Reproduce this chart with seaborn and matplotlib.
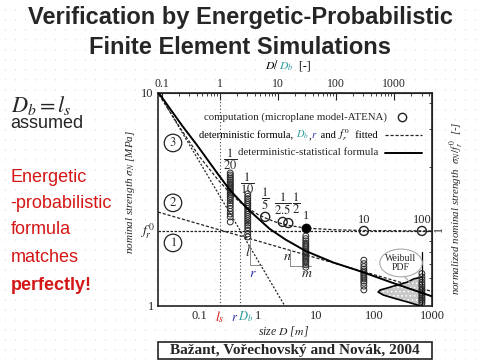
import matplotlib
matplotlib.use('Agg')
import matplotlib.pyplot as plt
import numpy as np
import pandas as pd
import seaborn as sns
from matplotlib.patches import Ellipse, Rectangle
from matplotlib.ticker import FixedLocator, LogLocator, NullFormatter
from matplotlib.offsetbox import TextArea, HPacker, AnchoredOffsetbox
from matplotlib.transforms import blended_transform_factory

# === values ===
FR0 = 2.25      # f_r^0 [MPa]
DB = 0.22       # D_b = l_s [m]
RDB = 0.485     # r * D_b [m]

# simulated clusters (size D [m] -> nominal strengths [MPa])
CLUSTER_D = [0.335, 0.67, 6.7, 67, 670]
CLUSTER_S = [
    [4.21, 4.12, 4.04, 3.96, 3.89, 3.82, 3.75, 3.69, 3.63, 3.57, 3.51, 3.45,
     3.39, 3.33, 3.26, 3.19, 3.12, 3.04, 2.96, 2.87, 2.78, 2.70, 2.62, 2.48],
    [3.36, 3.27, 3.19, 3.12, 3.05, 2.99, 2.93, 2.87, 2.81, 2.75, 2.69, 2.63,
     2.57, 2.51, 2.45, 2.39, 2.33, 2.26, 2.18, 2.11],
    [2.13, 2.07, 2.02, 1.97, 1.93, 1.89, 1.85, 1.81, 1.78, 1.75, 1.72, 1.69,
     1.66, 1.63, 1.60, 1.56, 1.52],
    [1.64, 1.58, 1.53, 1.49, 1.46, 1.43, 1.40, 1.37, 1.34, 1.31, 1.28, 1.24, 1.19],
    [1.42, 1.37, 1.33, 1.29, 1.26, 1.23, 1.20, 1.18, 1.15, 1.13, 1.11, 1.09,
     1.07, 1.05, 1.03],
]

# deterministic computations (open) and the reference size (filled)
DET_PTS_D = [1.34, 2.68, 3.35, 67, 670]
DET_PTS_S = [2.62, 2.48, 2.45, 2.25, 2.25]
REF_D = [6.7]
REF_S = [2.32]

# curves
SOLID_D = [0.0196, 0.05, 0.089, 0.2, 0.33, 0.67, 1.6, 3.0, 6.7, 20, 65, 200, 1000]
SOLID_S = [10.0, 7.0, 5.7, 4.2, 3.5, 2.85, 2.3, 2.05, 1.81, 1.6, 1.44, 1.29, 1.11]
DET_D = [0.0196, 0.05, 0.1, 0.2, 0.335, 0.5, 0.67, 1.0, 1.34, 2.0, 3.35, 6.7, 20, 67, 1000]
DET_S = [9.85, 6.6, 5.0, 3.95, 3.38, 3.06, 2.88, 2.69, 2.59, 2.48, 2.39, 2.32, 2.28, 2.26, 2.25]
STEEP_D = [0.0196, 2.92]
STEEP_S = [10.0, 1.0]
NM_D = [0.019, 1000]
NM_S = [2.76, 1.17]

# Weibull pdf drawn at the largest size
WB_S = [1.368, 1.339, 1.296, 1.255, 1.215, 1.189, 1.163, 1.126, 1.090, 1.044, 1.011, 1.0]
WB_D = [670, 480, 380, 255, 170, 128, 118, 145, 215, 380, 560, 670]

# scale labels above the clusters
SCALE_TXT = [r"$\dfrac{1}{20}$", r"$\dfrac{1}{10}$", r"$\dfrac{1}{5}$", r"$\dfrac{1}{2.5}$",
             r"$\dfrac{1}{2}$", "1", "10", "100"]
SCALE_D = [0.335, 0.67, 1.34, 2.68, 4.5, 6.7, 67, 670]
SCALE_S = [4.9, 3.78, 3.21, 3.04, 3.04, 2.64, 2.53, 2.53]

X_TICKS = [0.1, 1, 10, 100, 1000]
X_TICKLABELS = ["0.1", "1", "10", "100", "1000"]

# slope triangles
TRI_R_D = [0.728, 0.728, 1.17]
TRI_R_S = [2.04, 1.557, 1.557]
TRI_NM_D = [3.56, 3.56, 8.2]
TRI_NM_S = [1.83, 1.54, 1.54]

RED = "#d41616"
TEAL = "#2b9c9c"
BLUE = "#2a2aa8"

sns.set_style("white")
plt.rcParams['font.family'] = ['Liberation Serif', 'DejaVu Serif']
plt.rcParams['mathtext.fontset'] = 'stix'
plt.rcParams['hatch.color'] = '#8a8a8a'
plt.rcParams['hatch.linewidth'] = 0.6

fig = plt.figure(figsize=(4.8, 3.6), dpi=100)
fig.patch.set_facecolor("white")

# dotted slide background
bg = fig.add_axes([0, 0, 1, 1], zorder=-10)
bg.set_xlim(0, 480)
bg.set_ylim(0, 360)
bg.vlines(np.arange(5, 480, 10), 0, 360, colors="#cfcfcf",
          linestyles=(0, (1, 9.29)), linewidth=0.7)
bg.axis("off")

ax = fig.add_axes([0.329, 0.15, 0.571, 0.592])
ax.set_facecolor("none")
ax.set_xscale("log")
ax.set_yscale("log")
ax.set_xlim(0.019, 1000)
ax.set_ylim(1, 10)

# guide lines
ax.axhline(FR0, color="#222", lw=0.9, ls=(0, (2, 1.2)), zorder=2)
ax.axvline(DB, color="#444", lw=0.8, ls=(0, (1, 2)), zorder=2)
ax.plot([RDB, RDB], [1, FR0], color="#444", lw=0.8, ls=(0, (1, 2)), zorder=2)
sns.lineplot(x=STEEP_D, y=STEEP_S, ax=ax, color="#222", lw=0.9, ls=(0, (1.6, 1.4)),
             estimator=None, sort=False, zorder=2)
sns.lineplot(x=NM_D, y=NM_S, ax=ax, color="#222", lw=0.9, ls=(0, (2.5, 1.5)),
             estimator=None, sort=False, zorder=2)
sns.lineplot(x=DET_D, y=DET_S, ax=ax, color="#222", lw=0.9, ls=(0, (2.5, 1.5)),
             estimator=None, sort=False, zorder=3)

# slope triangles
ax.plot(TRI_R_D, TRI_R_S, color="#777", lw=0.6, zorder=2)
ax.plot(TRI_NM_D, TRI_NM_S, color="#777", lw=0.6, zorder=2)

# Weibull pdf
ax.fill_betweenx(WB_S, WB_D, 670, facecolor="#c8c8c8", edgecolor="none", hatch="....", zorder=2)
ax.plot(WB_D, WB_S, color="k", lw=1.2, zorder=3)
ax.plot([670, 670], [1, 1.8], color="k", lw=0.9, zorder=3)

# simulated strengths
rows = []
for d, vals in zip(CLUSTER_D, CLUSTER_S):
    for v in vals:
        rows.append({"D": d, "sigma": v})
df = pd.DataFrame(rows)
sns.scatterplot(data=df, x="D", y="sigma", ax=ax, s=18, facecolor="none",
                edgecolor="#2a2a2a", linewidth=0.7, zorder=4, legend=False)
sns.scatterplot(x=DET_PTS_D, y=DET_PTS_S, ax=ax, s=42, facecolor="none",
                edgecolor="#222", linewidth=1.0, zorder=4, legend=False)
sns.scatterplot(x=REF_D, y=REF_S, ax=ax, s=42, color="k", edgecolor="k",
                zorder=5, legend=False)

# deterministic-statistical formula
sns.lineplot(x=SOLID_D, y=SOLID_S, ax=ax, color="k", lw=1.4,
             estimator=None, sort=False, zorder=6)

for t, d, s in zip(SCALE_TXT, SCALE_D, SCALE_S):
    ax.text(d, s, t, ha="center", va="center", fontsize=9, zorder=7)

ax.text(0.68, 1.80, "$l$", fontsize=10, ha="center", va="center")
ax.text(0.83, 1.42, "$r$", fontsize=10, color=BLUE, ha="center", va="center")
ax.text(3.2, 1.70, "$n$", fontsize=10, ha="center", va="center")
ax.text(6.9, 1.42, "$m$", fontsize=10, ha="center", va="center")

# circled regime numbers
for txt, yy in [("3", 0.765), ("2", 0.484), ("1", 0.296)]:
    ax.text(0.055, yy, "$" + txt + "$", transform=ax.transAxes, fontsize=9,
            ha="center", va="center",
            bbox=dict(boxstyle="circle,pad=0.18", fc="none", ec="#222", lw=0.9))

# Weibull label
ax.add_patch(Ellipse((0.887, 0.202), 0.155, 0.13, transform=ax.transAxes,
                     fc="white", ec="#aaaaaa", lw=0.8, zorder=6))
ax.text(0.887, 0.202, "Weibull\nPDF", transform=ax.transAxes, fontsize=7,
        ha="center", va="center", linespacing=1.1, zorder=7)
ax.plot([0.9, 0.925], [0.137, 0.105], transform=ax.transAxes, color="#aaaaaa",
        lw=0.8, zorder=6)

# legend drawn in axes coords, text right-aligned to the samples
ax.text(0.836, 0.887, "computation (microplane model-ATENA)", transform=ax.transAxes,
        fontsize=7.8, ha="right", va="center")
ax.plot([0.891], [0.887], transform=ax.transAxes, marker="o", ms=6, mfc="none",
        mec="#222", mew=1.0, ls="none")


def colored_row(parts, xy, loc, transform, size, sep=0):
    boxes = [TextArea(t, textprops=dict(color=c, fontsize=size)) for t, c in parts]
    pack = HPacker(children=boxes, align="baseline", pad=0, sep=sep)
    box = AnchoredOffsetbox(loc=loc, child=pack, pad=0, borderpad=0, frameon=False,
                            bbox_to_anchor=xy, bbox_transform=transform)
    ax.add_artist(box)


colored_row([("deterministic formula, ", "k"), ("$D_b$", TEAL), (",", "k"), ("$r$", BLUE),
             (" and ", "k"), (r"$f_r^{\,0}$", "k"), ("  fitted", "k")],
            (0.803, 0.803), "center right", ax.transAxes, 7.6)
ax.plot([0.828, 0.964], [0.803, 0.803], transform=ax.transAxes, color="#222",
        lw=0.9, ls=(0, (2.5, 1.5)))
ax.text(0.803, 0.718, "deterministic-statistical formula", transform=ax.transAxes,
        fontsize=7.8, ha="right", va="center")
ax.plot([0.828, 0.964], [0.718, 0.718], transform=ax.transAxes, color="k", lw=1.4)

# axes styling
for sp in ax.spines.values():
    sp.set_color("#222")
    sp.set_linewidth(1.2)
ax.xaxis.set_major_locator(FixedLocator(X_TICKS))
ax.set_xticklabels(X_TICKLABELS)
ax.xaxis.set_minor_locator(LogLocator(base=10, subs=np.arange(2, 10)))
ax.xaxis.set_minor_formatter(NullFormatter())
ax.yaxis.set_major_locator(FixedLocator([1, 10]))
ax.set_yticklabels(["1", "10"])
ax.yaxis.set_minor_locator(LogLocator(base=10, subs=np.arange(2, 10)))
ax.yaxis.set_minor_formatter(NullFormatter())
ax.tick_params(which="both", direction="in", top=False, right=False,
               labelsize=9, pad=3, color="#222")
ax.tick_params(which="major", length=5)
ax.tick_params(which="minor", length=2.5)
ax.set_xlabel("")
ax.set_ylabel("")

secx = ax.secondary_xaxis("top", functions=(lambda d: d / DB, lambda r: r * DB))
secx.set_xticks(X_TICKS)
secx.set_xticklabels(X_TICKLABELS)
secx.xaxis.set_minor_locator(LogLocator(base=10, subs=np.arange(2, 10)))
secx.xaxis.set_minor_formatter(NullFormatter())
secx.tick_params(which="both", direction="in", labelsize=8.5, pad=2, color="#222")
secx.tick_params(which="major", length=5)
secx.tick_params(which="minor", length=2.5)

secy = ax.secondary_yaxis("right", functions=(lambda s: s / FR0, lambda n: n * FR0))
secy.set_yticks([1])
secy.set_yticklabels(["1"])
secy.yaxis.set_minor_locator(LogLocator(base=10, subs=np.arange(2, 10)))
secy.yaxis.set_minor_formatter(NullFormatter())
secy.tick_params(which="both", direction="in", labelsize=8.5, pad=1, color="#222",
                 labelrotation=90)
secy.tick_params(which="major", length=5)
secy.tick_params(which="minor", length=2.5)

trans = blended_transform_factory(ax.transAxes, ax.transData)
ax.text(-0.038, FR0, r"$f_r^{\,0}$", transform=trans, fontsize=10, ha="center", va="center")
tb = blended_transform_factory(ax.transData, ax.transAxes)
ax.text(DB, -0.052, "$l_s$", transform=tb, fontsize=10, color=RED, ha="center", va="center")
colored_row([("$r$", BLUE), ("$D_b$", TEAL)], (0.306, -0.052), "center",
            ax.transAxes, 9)

# axis titles
fig.text(0.59, 0.081, "size $D$ [$m$]", fontsize=8.5, style="italic", ha="center", va="center")
fig.text(0.271, 0.467, r"nominal strength $\sigma_N$ [MPa]", fontsize=8, style="italic",
         rotation=90, ha="center", va="center")
fig.text(0.953, 0.422, r"normalized nominal strength  $\sigma_N / f_r^{\,0}$  [-]",
         fontsize=7.8, style="italic", rotation=90, ha="center", va="center")
colored_row([("$D/$", "k"), ("$D_b$", TEAL), ("  [-]", "k")], (0.6, 0.817), "center",
            fig.transFigure, 8.5)

# slide texts
sans = ['Liberation Sans', 'DejaVu Sans']
fig.text(0.5, 0.952, "Verification by Energetic-Probabilistic", family=sans,
         fontsize=17, weight="bold", ha="center", va="center")
fig.text(0.5, 0.868, "Finite Element Simulations", family=sans,
         fontsize=17, weight="bold", ha="center", va="center")
fig.text(0.022, 0.708, "$D_b = l_s$", fontsize=16, ha="left", va="center")
fig.text(0.022, 0.658, "assumed", family=sans, fontsize=13, ha="left", va="center")
for txt, yy in [("Energetic", 177), ("-probabilistic", 203), ("formula", 230),
                ("matches", 257)]:
    fig.text(0.022, 1 - yy / 360, txt, family=sans, fontsize=13, color=RED,
             ha="left", va="center")
fig.text(0.022, 1 - 285 / 360, "perfectly!", family=sans, fontsize=13, color=RED,
         weight="bold", ha="left", va="center")

# reference box
fig.patches.append(Rectangle((0.329, 0.004), 0.571, 0.046, transform=fig.transFigure,
                             fc="white", ec="#222", lw=1.2))
fig.text(0.615, 0.026, "Bažant, Vořechovský and Novák, 2004", fontsize=11,
         weight="bold", ha="center", va="center")

fig.savefig("out.png", dpi=100)
